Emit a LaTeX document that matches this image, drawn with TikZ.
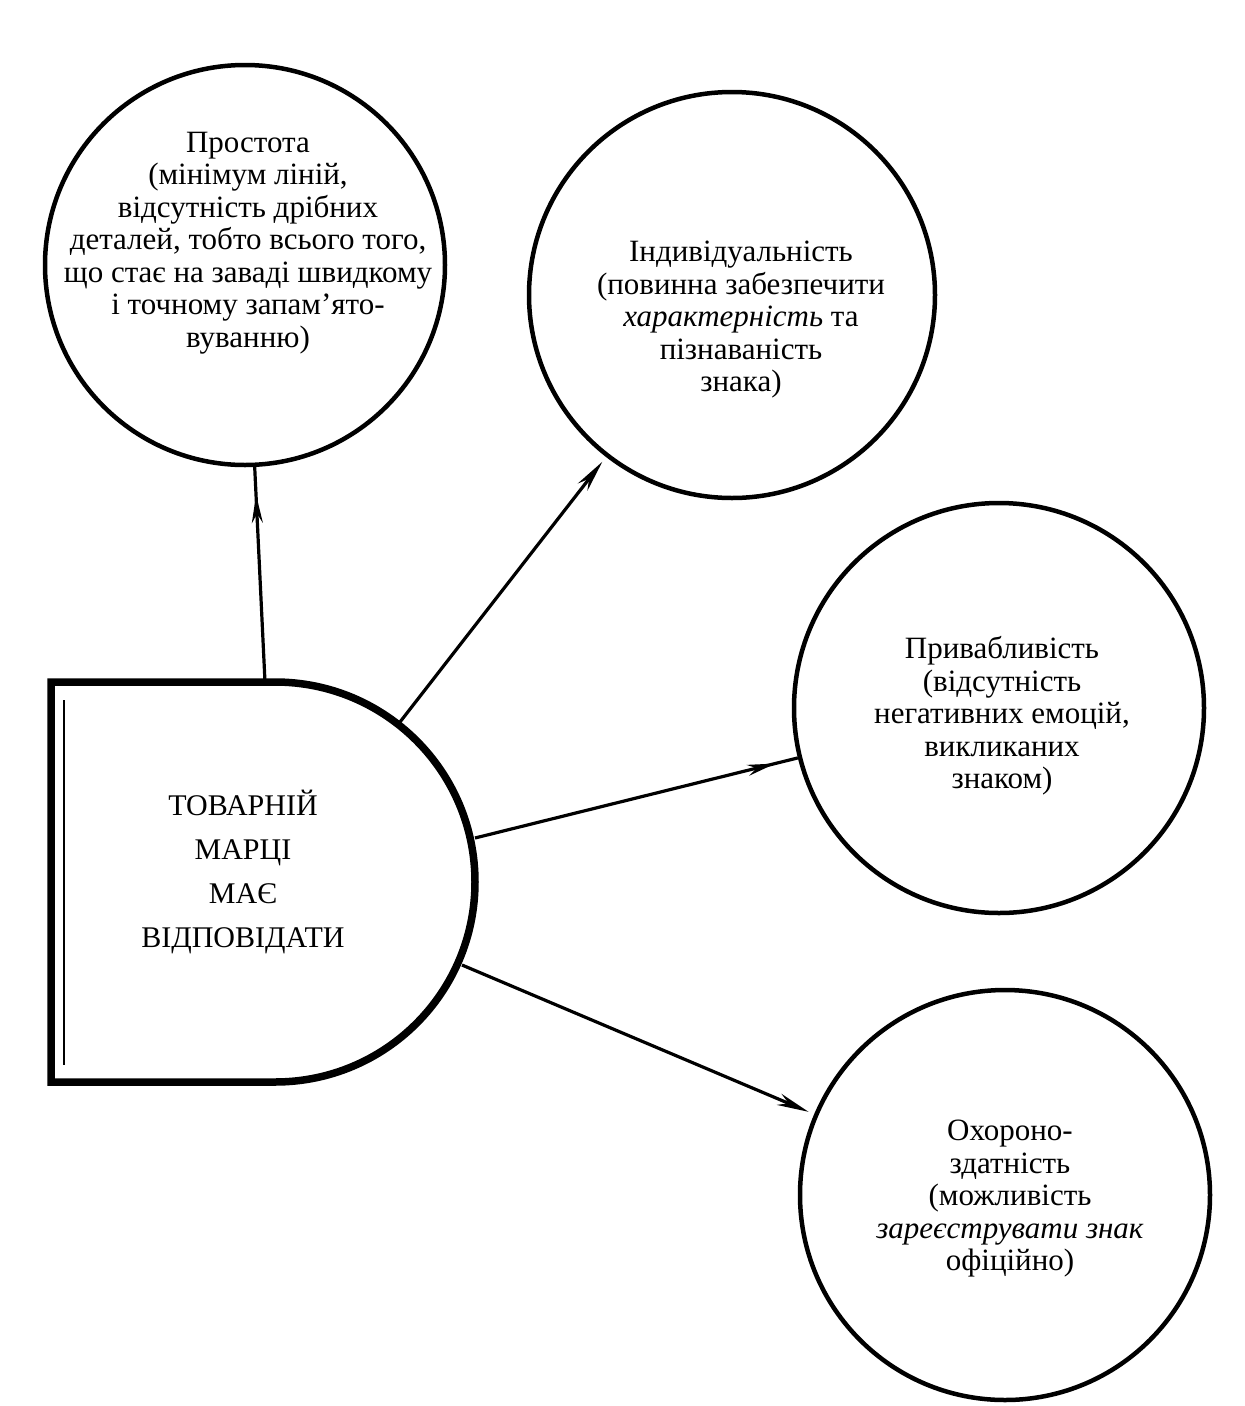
\documentclass[tikz,border=0pt]{standalone}
\usepackage{fontspec}
\setmainfont{Liberation Serif}
\usetikzlibrary{arrows.meta,decorations.markings}
\begin{document}
\begin{tikzpicture}[x=1pt,y=-1pt,
  bubble/.style={circle,draw,line width=4.5pt,minimum size=#1,inner sep=0pt},
  btext/.style={align=center,inner sep=0pt,font=\fontsize{31}{32.5}\selectfont},
  dtext/.style={align=center,inner sep=0pt,font=\fontsize{30}{44}\selectfont},
  conn/.style={line width=3.2pt},
  tip/.style={-{Stealth[length=32pt,width=12pt]}},
  midtip/.style={decoration={markings,mark=at position #1 with {\arrow{Stealth[length=28pt,width=11pt]}}},postaction={decorate}}
]
\useasboundingbox (0,0) rectangle (1245,1406);
% circles
\node[bubble=400pt] (prost) at (245,265) {};
\node[bubble=406pt] (ind) at (732,295) {};
\node[bubble=410pt] (pryv) at (999,708) {};
\node[bubble=410pt] (okh) at (1005,1195) {};
% texts in circles
\node[btext] (prostT) at (248,243) {Простота\\(мінімум ліній,\\відсутність дрібних\\деталей, тобто всього того,\\що стає на заваді швидкому\\і точному запам’ято-\\вуванню)};
\node[btext] (indT) at (741,320) {Індивідуальність\\(повинна забезпечити\\\textit{характерність} та\\пізнаваність\\знака)};
\node[btext] (pryvT) at (1002,716) {Привабливість\\(відсутність\\негативних емоцій,\\викликаних\\знаком)};
\node[btext] (okhT) at (1010,1199) {Охороно-\\здатність\\(можливість\\\textit{зареєструвати знак}\\офіційно)};
% D-shaped box
\draw[line width=7.5pt,line join=miter] (51,682) -- (275,682) arc[start angle=-90,end angle=90,radius=200] -- (51,1082) -- cycle;
\draw[line width=2.8pt] (64,700) -- (64,1065);
\node[dtext] (main) at (243,872) {ТОВАРНІЙ\\МАРЦІ\\МАЄ\\ВІДПОВІДАТИ};
% connector start points on the D shape
\coordinate (dTop) at (265,682);
\coordinate (dA) at (400,722);
\coordinate (dB) at (475,838);
\coordinate (dC) at (462,965);
% connectors
\draw[conn,midtip=0.87] (dTop) -- (prost);
\draw[conn,tip,shorten >=6pt] (dA) -- (ind);
\draw[conn,midtip=0.93] (dB) -- (pryv);
\draw[conn,tip,shorten >=6pt] (dC) -- (okh);
\end{tikzpicture}
\end{document}
